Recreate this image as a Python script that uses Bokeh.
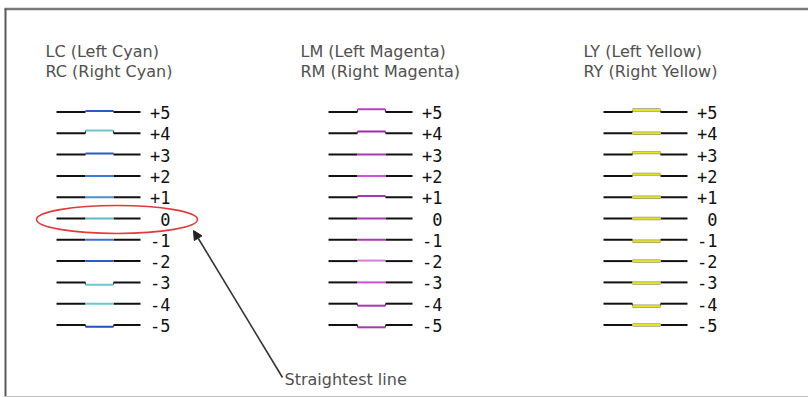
from bokeh.plotting import figure
from bokeh.models import Range1d, ColumnDataSource, Arrow, NormalHead
from bokeh.core.properties import value
from bokeh.embed import file_html
from bokeh.resources import INLINE

# ---- data ----
labels = ["+5", "+4", "+3", "+2", "+1", "0", "-1", "-2", "-3", "-4", "-5"]
# vertical displacement (px) of the coloured middle segment of each test line
cyan_shift = [1.0, 2.7, 1.0, 0.0, 0.0, 0.0, 0.0, 0.0, -2.3, 0.0, -1.7]
magenta_shift = [2.7, 1.7, 0.0, 0.0, 1.3, 0.0, 0.0, 0.5, 0.0, -2.0, -2.3]
yellow_shift = [2.0, 0.0, 2.0, 1.5, 0.0, 0.0, -1.5, 0.0, -0.7, -2.5, 0.0]
titles = [("LC (Left Cyan)", "RC (Right Cyan)"),
          ("LM (Left Magenta)", "RM  (Right Magenta)"),
          ("LY (Left Yellow)", "RY (Right Yellow)")]
callout_text = "Straightest line"
best_row = "0"

# ---- styling / layout ----
col_x0 = [56, 328, 603]          # left end of each column's lines
line_len = 84
mid_a, mid_b = 29, 57
row_top, row_step = 111.5, 21.3
cyan_cols = ["#2a5cc8", "#6cc8cc", "#2a5cc8", "#3a78d8", "#4a90d0", "#5cbcc4",
             "#3a70d0", "#2a5cc8", "#6cc8cc", "#6cc8cc", "#2050c0"]
mag_cols = ["#b840c0", "#a02ca8", "#a838b0", "#d050d8", "#a838b0", "#a838b0",
            "#a838b0", "#d080d8", "#d050d8", "#a838b0", "#a838b0"]
yel_cols = ["#e4e420"] * 11
shifts = [cyan_shift, magenta_shift, yellow_shift]
colsets = [cyan_cols, mag_cols, yel_cols]
outline = [None, None, "#9a9a70"]

p = figure(width=808, height=397, x_range=Range1d(0, 808), y_range=Range1d(397, 0),
           output_backend="svg", toolbar_location=None, x_axis_type=None, y_axis_type=None,
           min_border=0, outline_line_color=None, background_fill_color="white")
p.grid.visible = False

# frame
p.segment(x0=[4], y0=[8.5], x1=[808], y1=[8.5], line_color="#7a7a7a", line_width=2.5)
p.segment(x0=[5], y0=[8], x1=[5], y1=[396], line_color="#5a5a5a", line_width=2)
p.segment(x0=[4], y0=[396], x1=[808], y1=[396], line_color="#c4c4c4", line_width=1)

for c in range(3):
    x0 = col_x0[c]
    ys = [row_top + i * row_step for i in range(len(labels))]
    sh = shifts[c]
    ym = [y - s for y, s in zip(ys, sh)]
    black = ColumnDataSource(dict(
        x0=[x0] * len(ys) + [x0 + mid_b] * len(ys),
        x1=[x0 + mid_a] * len(ys) + [x0 + line_len] * len(ys),
        y=ys + ys))
    p.segment(x0="x0", y0="y", x1="x1", y1="y", source=black, line_color="#111111", line_width=2)
    # step connectors
    conn = ColumnDataSource(dict(
        x=[x0 + mid_a] * len(ys) + [x0 + mid_b] * len(ys),
        y0=ys + ys, y1=ym + ym))
    p.segment(x0="x", y0="y0", x1="x", y1="y1", source=conn, line_color="#333333", line_width=1.2)
    mid = ColumnDataSource(dict(x0=[x0 + mid_a] * len(ys), x1=[x0 + mid_b] * len(ys),
                                y=ym, col=colsets[c]))
    if outline[c]:
        p.segment(x0="x0", y0="y", x1="x1", y1="y", source=mid, line_color=outline[c], line_width=3.4)
    p.segment(x0="x0", y0="y", x1="x1", y1="y", source=mid, line_color="col", line_width=2)
    lab = ColumnDataSource(dict(x=[x0 + line_len + 30] * len(ys), y=[y + 0.5 for y in ys], t=labels))
    p.text(x="x", y="y", text="t", source=lab, text_align="right", text_baseline="middle",
           text_font=value("DejaVu Sans Mono"), text_font_size="17px", text_color="#111111")

# titles
title_x = [45, 300, 583]
title_y = [51, 70.5]
tsrc = ColumnDataSource(dict(
    x=[title_x[c] for c in range(3) for _ in range(2)],
    y=[title_y[k] for c in range(3) for k in range(2)],
    t=[titles[c][k] for c in range(3) for k in range(2)]))
p.text(x="x", y="y", text="t", source=tsrc, text_align="left", text_baseline="middle",
       text_font=value("DejaVu Sans"), text_font_size="16px", text_color="#505050")

# callout
best_i = labels.index(best_row)
ell_y = row_top + best_i * row_step + 1
p.ellipse(x=[116.5], y=[ell_y], width=[161], height=[28], fill_color=None,
          line_color="#e03a3a", line_width=1.6)
p.add_layout(Arrow(end=NormalHead(size=9, fill_color="#222222", line_color="#222222"),
                   x_start=282, y_start=377, x_end=193, y_end=ell_y + 11,
                   line_color="#333333", line_width=1.6))
p.text(x=[284], y=[379], text=[callout_text], text_align="left", text_baseline="middle",
       text_font=value("DejaVu Sans"), text_font_size="16px", text_color="#505050")

open("out.html", "w").write(file_html(p, INLINE))
